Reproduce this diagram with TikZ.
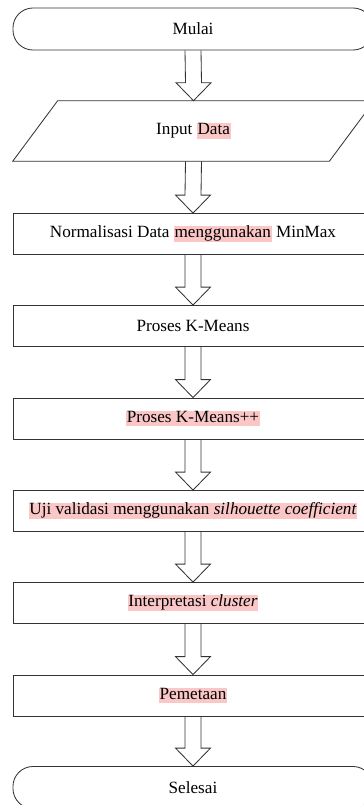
\documentclass[tikz,border=0pt]{standalone}
\usepackage{fontspec}
\setmainfont{Liberation Serif}
\usetikzlibrary{calc}
\definecolor{hlpink}{RGB}{250,198,198}
\newcommand{\hl}[1]{{\setlength{\fboxsep}{0pt}\colorbox{hlpink}{\kern0.6pt\rule[-3pt]{0pt}{10.8pt}#1\kern0.6pt}}}

\begin{document}
\begin{tikzpicture}[x=0.025cm, y=-0.025cm,
  line/.style={line width=0.6pt, draw=black!80},
  process/.style={line, rectangle, minimum width=9cm, minimum height=1.025cm, inner sep=0pt, font=\fontsize{12.2}{14}\selectfont},
  terminal/.style={process, rounded corners=0.5cm, minimum height=1.05cm},
  io/.style={rectangle, minimum width=9.025cm, minimum height=1.5cm, inner sep=0pt, font=\fontsize{12.2}{14}\selectfont},
  flow/.style={line, line join=miter}]
\useasboundingbox (0,0) rectangle (363,805);

\node[terminal] (mulai) at (193, 29) {Mulai};

\node[io] (input) at (193.5, 131) {Input \hl{Data}};
\draw[line] ($(input.north west)+(45,0)$) -- (input.north east)
  -- ($(input.south east)+(-45,0)$) -- (input.south west) -- cycle;

\node[process] (norm) at (193, 234) {Normalisasi Data \hl{menggunakan} MinMax};
\node[process] (kmeans) at (193, 326) {Proses K-Means};
\node[process] (kmeanspp) at (193, 418.5) {\hl{Proses K-Means++}};
\node[process] (uji) at (193, 511) {\hl{Uji validasi menggunakan \textit{silhouette coefficient}}};
\node[process] (interp) at (193, 603) {\hl{Interpretasi \textit{cluster}}};
\node[process] (peta) at (193, 695.5) {\hl{Pemetaan}};
\node[terminal] (selesai) at (193, 787.5) {Selesai};

% block arrows between the steps
\foreach \a/\b in {mulai/input, input/norm, norm/kmeans, kmeans/kmeanspp,
                   kmeanspp/uji, uji/interp, interp/peta, peta/selesai}
  \draw[flow] ($(\a.south)+(-8,0)$) -- ($(\b.north)+(-8,-18)$)
    -- ($(\b.north)+(-17.5,-18)$) -- (\b.north) -- ($(\b.north)+(17.5,-18)$)
    -- ($(\b.north)+(8,-18)$) -- ($(\a.south)+(8,0)$);
\end{tikzpicture}
\end{document}
